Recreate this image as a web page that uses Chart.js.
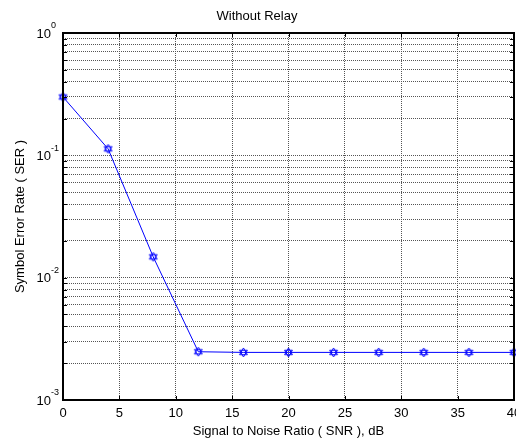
<!DOCTYPE html>
<html>
<head>
<meta charset="utf-8">
<script src="https://cdn.jsdelivr.net/npm/chart.js@4"></script>
<style>
html, body { margin: 0; padding: 0; background: #fff; overflow: hidden; }
canvas { display: block; }
</style>
</head>
<body>
<canvas id="c" width="540" height="439"></canvas>
<script>
// data
var snrDb = [0, 4, 8, 12, 16, 20, 24, 28, 32, 36, 40];
var serValues = [0.30, 0.113, 0.0148, 0.00248, 0.00245, 0.00245, 0.00245, 0.00245, 0.00245, 0.00245, 0.00245];
var xTicks = [0, 5, 10, 15, 20, 25, 30, 35, 40];
var yDecades = [-3, -2, -1, 0];
var ySteps = [1, 2, 3, 4, 5, 6, 7, 8, 9];

var FONT = 'Arial, "Liberation Sans", sans-serif';

// all log ticks (1..9 per decade) for grid + inner tick marks
var yTickValues = [];
for (var d = -3; d < 0; d++) {
    for (var k = 0; k < ySteps.length; k++) {
        yTickValues.push(parseFloat((ySteps[k] * Math.pow(10, d)).toPrecision(3)));
    }
}
yTickValues.push(1);

// matlab 'h' marker (hexagram)
function hexagram(){
    var c = document.createElement('canvas');
    c.width = 11; c.height = 11;
    var g = c.getContext('2d');
    var cx = 5.5, cy = 5.5, r = 4.5;
    g.strokeStyle = '#0000ff';
    g.lineWidth = 1;
    [-90, 90].forEach(function(a0){
        g.beginPath();
        for (var i = 0; i < 3; i++) {
            var a = (a0 + i * 120) * Math.PI / 180;
            var px = cx + r * Math.cos(a), py = cy + r * Math.sin(a);
            if (i == 0) g.moveTo(px, py); else g.lineTo(px, py);
        }
        g.closePath();
        g.stroke();
    });
    return c;
}

var frame = {
    id: 'frame',
    afterDraw: function(chart){
        var ctx = chart.ctx, a = chart.chartArea;
        var xs = chart.scales.x, ys = chart.scales.y;
        ctx.save();
        ctx.strokeStyle = '#000';
        ctx.lineWidth = 1;
        ctx.beginPath();
        xTicks.forEach(function(v){
            var px = Math.round(xs.getPixelForValue(v)) + 0.5;
            ctx.moveTo(px, a.bottom); ctx.lineTo(px, a.bottom - 4);
            ctx.moveTo(px, a.top); ctx.lineTo(px, a.top + 4);
        });
        yTickValues.forEach(function(v){
            var py = Math.round(ys.getPixelForValue(v)) + 0.5;
            ctx.moveTo(a.left, py); ctx.lineTo(a.left + 4, py);
            ctx.moveTo(a.right, py); ctx.lineTo(a.right - 4, py);
        });
        ctx.stroke();
        ctx.lineWidth = 2;
        ctx.strokeRect(a.left, a.top, a.right - a.left, a.bottom - a.top);

        // y labels as 10^n
        ctx.fillStyle = '#000';
        ctx.textBaseline = 'middle';
        ctx.textAlign = 'left';
        yDecades.forEach(function(e){
            var py = ys.getPixelForValue(Math.pow(10, e));
            ctx.font = '13px ' + FONT;
            ctx.fillText('10', 36.5, py + 1);
            var w = ctx.measureText('10').width;
            ctx.font = '9px ' + FONT;
            ctx.fillText(String(e), 36.5 + w, py - 7);
        });
        ctx.restore();
    }
};

var ctx = document.getElementById('c').getContext('2d');
var myChart = new Chart(ctx, {
    type: 'line',
    data: {
        datasets: [{
            data: snrDb.map(function(x, i){ return {x: x, y: serValues[i]}; }),
            borderColor: '#0000ff',
            backgroundColor: '#0000ff',
            borderWidth: 1,
            tension: 0,
            pointStyle: hexagram(),
            pointRadius: 4,
            clip: false
        }]
    },
    options: {
        responsive: false,
        animation: false,
        devicePixelRatio: 1,
        layout: { padding: { left: 0, right: 26, top: 0, bottom: 0 } },
        plugins: {
            legend: { display: false },
            tooltip: { enabled: false },
            title: {
                display: true,
                text: 'Without Relay',
                color: '#000',
                font: { family: FONT, size: 13, weight: 'normal' },
                padding: { top: 9, bottom: 8.4 }
            }
        },
        scales: {
            x: {
                type: 'linear',
                min: 0, max: 40,
                afterBuildTicks: function(s){ s.ticks = xTicks.map(function(v){ return {value: v}; }); },
                afterFit: function(s){ s.height = 39; },
                ticks: { color: '#000', padding: 6, font: { family: FONT, size: 13 }, autoSkip: false, maxRotation: 0 },
                grid: { color: '#555', drawTicks: false },
                border: { display: false, dash: [1, 1] },
                title: {
                    display: true,
                    text: 'Signal to Noise Ratio ( SNR ), dB',
                    color: '#000',
                    font: { family: FONT, size: 13 },
                    padding: { top: 0, bottom: 0 }
                }
            },
            y: {
                type: 'logarithmic',
                min: 0.001, max: 1,
                afterBuildTicks: function(s){ s.ticks = yTickValues.map(function(v){ return {value: v}; }); },
                afterFit: function(s){ s.width = 63; },
                ticks: { display: false, autoSkip: false },
                grid: { color: '#555', drawTicks: false },
                border: { display: false, dash: [1, 1] },
                title: {
                    display: true,
                    text: 'Symbol Error Rate ( SER )',
                    color: '#000',
                    font: { family: FONT, size: 13 },
                    padding: { top: 13, bottom: 0 }
                }
            }
        }
    },
    plugins: [frame]
});
</script>
</body>
</html>
